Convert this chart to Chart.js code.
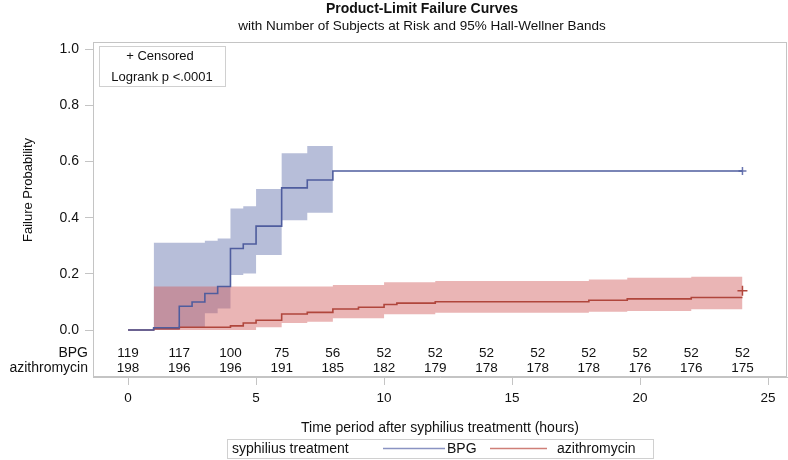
<!DOCTYPE html>
<html>
<head>
<meta charset="utf-8">
<script src="https://cdn.jsdelivr.net/npm/chart.js@4.4.1/dist/chart.umd.min.js"></script>
<style>
  body { margin: 0; background: #fff; }
  #wrap { width: 788px; height: 460px; }
</style>
</head>
<body>
<div id="wrap"><canvas id="grafico"></canvas></div>
<script>
// tiempos (horas) y probabilidad de falla, curva escalonada
const bpgTimes = [0, 1, 2, 2.5, 3, 3.5, 4, 4.5, 5, 6, 7, 8, 24];
const bpgFail  = [0, 0.008, 0.085, 0.10, 0.13, 0.155, 0.29, 0.306, 0.37, 0.506, 0.534, 0.566, 0.566];
const aziTimes = [0, 1, 2, 4, 4.5, 5, 6, 7, 8, 9, 10, 10.5, 12, 18, 19.5, 22, 24];
const aziFail  = [0, 0.005, 0.010, 0.015, 0.025, 0.035, 0.057, 0.063, 0.075, 0.081, 0.091, 0.096, 0.101, 0.106, 0.111, 0.116, 0.116];

// bandas Hall-Wellner 95%
const bpgBandTimes = [1, 2, 3, 3.5, 4, 4.5, 5, 6, 7, 8];
const bpgUpper     = [0.311, 0.311, 0.318, 0.326, 0.433, 0.441, 0.502, 0.629, 0.655, 0.655];
const bpgLower     = [0, 0.01, 0.06, 0.077, 0.196, 0.201, 0.267, 0.391, 0.417, 0.417];
const aziBandTimes = [1, 4, 5, 6, 7, 8, 10, 12, 18, 19.5, 22, 24];
const aziUpper     = [0.155, 0.155, 0.155, 0.155, 0.155, 0.16, 0.17, 0.175, 0.18, 0.186, 0.19, 0.19];
const aziLower     = [0, 0, 0.01, 0.025, 0.03, 0.042, 0.056, 0.062, 0.065, 0.068, 0.074, 0.074];

// censurados
const bpgCensor = [[24, 0.566]];
const aziCensor = [[24, 0.14]];

// sujetos en riesgo
const riskTimes = [0, 2, 4, 6, 8, 10, 12, 14, 16, 18, 20, 22, 24];
const riskBPG   = [119, 117, 100, 75, 56, 52, 52, 52, 52, 52, 52, 52, 52];
const riskAzi   = [198, 196, 196, 191, 185, 182, 179, 178, 178, 178, 176, 176, 175];

const xTicks = [0, 5, 10, 15, 20, 25];
const yTicks = [0, 0.2, 0.4, 0.6, 0.8, 1.0];

const FONT = '"Liberation Sans", Arial, sans-serif';
const azul = '#4f5d9e', rojo = '#b0463c';

const pts = (ts, vs) => ts.map((t, i) => ({ x: t, y: vs[i] }));

const extras = {
    id: 'extras',
    afterDraw(chart) {
        const { ctx, chartArea: a, scales: { x } } = chart;
        ctx.save();
        // marco
        ctx.strokeStyle = '#c4c4c4';
        ctx.lineWidth = 1;
        ctx.strokeRect(a.left + 0.5, a.top + 0.5, a.right - a.left - 1, a.bottom - a.top - 1);

        ctx.fillStyle = '#111';
        ctx.textBaseline = 'middle';
        // titulos
        ctx.textAlign = 'center';
        ctx.font = 'bold 14px ' + FONT;
        ctx.fillText('Product-Limit Failure Curves', 422, 9);
        ctx.font = '13.5px ' + FONT;
        ctx.fillText('with Number of Subjects at Risk and 95% Hall-Wellner Bands', 422, 26);

        // titulo eje y
        ctx.save();
        ctx.translate(28, 190);
        ctx.rotate(-Math.PI / 2);
        ctx.font = '13px ' + FONT;
        ctx.fillText('Failure Probability', 0, 0);
        ctx.restore();

        // tabla de riesgo
        ctx.font = '13.5px ' + FONT;
        riskTimes.forEach((t, i) => {
            const px = x.getPixelForValue(t);
            ctx.fillText(String(riskBPG[i]), px, 353);
            ctx.fillText(String(riskAzi[i]), px, 368);
        });
        ctx.textAlign = 'right';
        ctx.font = '14px ' + FONT;
        ctx.fillText('BPG', 88, 353);
        ctx.fillText('azithromycin', 88, 368);

        // caja censurado
        ctx.fillStyle = '#fff';
        ctx.fillRect(99, 46, 126, 40);
        ctx.strokeStyle = '#d0d0d0';
        ctx.strokeRect(99.5, 46.5, 126, 40);
        ctx.fillStyle = '#111';
        ctx.textAlign = 'center';
        ctx.font = '13px ' + FONT;
        ctx.fillText('+ Censored', 160, 56);
        ctx.fillText('Logrank p <.0001', 162, 77);

        // leyenda inferior
        ctx.strokeStyle = '#d0d0d0';
        ctx.strokeRect(227.5, 439.5, 426, 19);
        ctx.font = '14px ' + FONT;
        ctx.textAlign = 'left';
        ctx.fillText('syphilius treatment', 232, 449);
        ctx.fillText('BPG', 447, 449);
        ctx.fillText('azithromycin', 557, 449);
        ctx.lineWidth = 1.5;
        ctx.strokeStyle = '#8a93c2';
        ctx.beginPath(); ctx.moveTo(383, 448.5); ctx.lineTo(445, 448.5); ctx.stroke();
        ctx.strokeStyle = '#cf7f78';
        ctx.beginPath(); ctx.moveTo(490, 448.5); ctx.lineTo(547, 448.5); ctx.stroke();
        ctx.restore();
    }
};

const grafico = document.getElementById('grafico').getContext('2d');

window.graficaFalla = new Chart(grafico, {
    type: 'line',
    data: {
        datasets: [
            { label: 'BPG', data: pts(bpgTimes, bpgFail), borderColor: azul, borderWidth: 1.6, stepped: true, pointRadius: 0, order: 0 },
            { label: 'azithromycin', data: pts(aziTimes, aziFail), borderColor: rojo, borderWidth: 1.6, stepped: true, pointRadius: 0, order: 1 },
            { label: 'bpgCens', data: bpgCensor.map(p => ({ x: p[0], y: p[1] })), showLine: false, pointStyle: 'cross', pointRadius: 4, borderColor: '#6a76b0', borderWidth: 1.5, order: 0 },
            { label: 'aziCens', data: aziCensor.map(p => ({ x: p[0], y: p[1] })), showLine: false, pointStyle: 'cross', pointRadius: 5, borderColor: rojo, borderWidth: 1.5, order: 0 },
            { label: 'aziUp', data: pts(aziBandTimes, aziUpper), stepped: true, borderWidth: 0, pointRadius: 0, fill: '+1', backgroundColor: 'rgba(208,91,91,0.45)', order: 2 },
            { label: 'aziLo', data: pts(aziBandTimes, aziLower), stepped: true, borderWidth: 0, pointRadius: 0, fill: false, order: 2 },
            { label: 'bpgUp', data: pts(bpgBandTimes, bpgUpper), stepped: true, borderWidth: 0, pointRadius: 0, fill: '+1', backgroundColor: 'rgba(111,126,179,0.5)', order: 3 },
            { label: 'bpgLo', data: pts(bpgBandTimes, bpgLower), stepped: true, borderWidth: 0, pointRadius: 0, fill: false, order: 3 }
        ]
    },
    options: {
        responsive: true,
        maintainAspectRatio: false,
        animation: false,
        layout: { autoPadding: false, padding: { top: 42, left: 0, right: 1, bottom: 21 } },
        plugins: {
            legend: { display: false },
            title: { display: false },
            tooltip: { enabled: false }
        },
        scales: {
            x: {
                type: 'linear',
                min: -1.37,
                max: 25.74,
                afterBuildTicks: (axis) => { axis.ticks = xTicks.map(v => ({ value: v })); },
                afterFit: (axis) => { axis.height = 62; axis.paddingLeft = 0; axis.paddingRight = 0; },
                grid: { drawOnChartArea: false, tickLength: 8, color: '#c4c4c4' },
                border: { color: '#c4c4c4' },
                ticks: { font: { size: 13.5, family: FONT }, color: '#111', padding: 5, maxRotation: 0 },
                title: { display: true, text: 'Time period after syphilius treatmentt (hours)', font: { size: 14, family: FONT }, color: '#111', padding: { top: 0, bottom: 2 } }
            },
            y: {
                min: -0.167,
                max: 1.025,
                afterBuildTicks: (axis) => { axis.ticks = yTicks.map(v => ({ value: v })); },
                afterFit: (axis) => { axis.width = 93; axis.paddingTop = 0; axis.paddingBottom = 0; },
                grid: { drawOnChartArea: false, tickLength: 8, color: '#c4c4c4' },
                border: { color: '#c4c4c4' },
                ticks: { font: { size: 14, family: FONT }, color: '#111', padding: 6, callback: (v) => v.toFixed(1) }
            }
        }
    },
    plugins: [extras]
});
</script>
</body>
</html>
